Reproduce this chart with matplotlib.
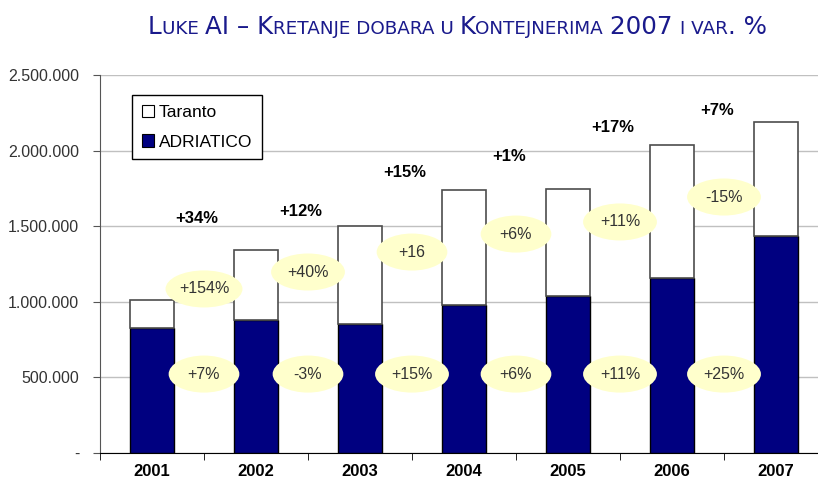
import matplotlib
matplotlib.use("Agg")
import matplotlib.pyplot as plt
from matplotlib.patches import Patch, Ellipse
from matplotlib.ticker import FixedLocator, FuncFormatter

# ── data ─────────────────────────────────────────────────────────────────────
years = ["2001", "2002", "2003", "2004", "2005", "2006", "2007"]
adriatico = [826000, 880000, 853000, 979000, 1038000, 1157000, 1435000]
total = [1012000, 1343000, 1501000, 1739000, 1744000, 2039000, 2189000]
taranto = [t - a for t, a in zip(total, adriatico)]

total_var = ["+34%", "+12%", "+15%", "+1%", "+17%", "+7%"]
taranto_var = ["+154%", "+40%", "+16", "+6%", "+11%", "-15%"]
adriatico_var = ["+7%", "-3%", "+15%", "+6%", "+11%", "+25%"]

# label heights (layout only)
total_var_y = [1554000, 1594000, 1858000, 1958000, 2156000, 2262000]
taranto_var_y = [1085000, 1197000, 1329000, 1448000, 1528000, 1693000]
adriatico_var_y = 522000

NAVY = "#000080"
PALE = "#FFFFCC"

plt.rcParams["font.family"] = ["Liberation Sans", "DejaVu Sans"]

fig = plt.figure(figsize=(8.18, 4.86), dpi=100)
ax = fig.add_axes([100 / 818, 33 / 486, 728 / 818, 378 / 486])

x = list(range(len(years)))
ax.bar(x, adriatico, width=0.42, color=NAVY, edgecolor="black", linewidth=1, zorder=3)
ax.bar(x, taranto, bottom=adriatico, width=0.42, color="white",
       edgecolor="#4d4d4d", linewidth=1.2, zorder=3)

ax.set_xlim(-0.5, 6.5)
ax.set_ylim(0, 2500000)
ax.yaxis.set_major_locator(FixedLocator([0, 500000, 1000000, 1500000, 2000000, 2500000]))
ax.yaxis.set_major_formatter(FuncFormatter(
    lambda v, p: "-" if v == 0 else f"{int(v):,}".replace(",", ".")))
ax.grid(axis="y", color="#C0C0C0", linewidth=1, zorder=0)
ax.set_axisbelow(True)

ax.set_xticks(x)
ax.set_xticklabels(years, fontsize=12, fontweight="bold")
ax.set_xticks([i - 0.5 for i in range(len(years) + 1)], minor=True)
ax.tick_params(axis="x", which="major", length=0, pad=8)
ax.tick_params(axis="x", which="minor", length=5, color="black")
ax.tick_params(axis="y", labelsize=11.5, labelcolor="#333333", length=5,
               color="#555555", pad=10)
for s in ("top", "right"):
    ax.spines[s].set_visible(False)
ax.spines["left"].set_color("#555555")
ax.spines["bottom"].set_color("black")

# variation labels
for i in range(len(total_var)):
    ax.text(i + 0.43, total_var_y[i], total_var[i], ha="center", va="center",
            fontsize=12, fontweight="bold", color="black", zorder=5)
    for lab, yy in ((taranto_var[i], taranto_var_y[i]), (adriatico_var[i], adriatico_var_y)):
        w = 0.68 + 0.03 * max(len(lab) - 3, 0)
        ax.add_patch(Ellipse((i + 0.5, yy), w, 245000, facecolor=PALE,
                             edgecolor="none", zorder=4))
        ax.text(i + 0.5, yy, lab, ha="center", va="center", fontsize=11.5,
                color="#333333", zorder=5)

handles = [Patch(facecolor="white", edgecolor="black", linewidth=0.8),
           Patch(facecolor=NAVY, edgecolor="black", linewidth=0.8)]
leg = ax.legend(handles, ["Taranto", "ADRIATICO"], loc="upper left",
                bbox_to_anchor=(0.044, 0.947), fontsize=12.5, frameon=True,
                fancybox=False, framealpha=1, edgecolor="black",
                handlelength=0.7, handleheight=0.7, handletextpad=0.3,
                borderpad=0.55, labelspacing=0.85, borderaxespad=0)
leg.get_frame().set_linewidth(1)

# small-caps title
title = "Luke AI – Kretanje dobara u Kontejnerima 2007 i var. %"
runs = []
for ch in title:
    big = not ch.islower()
    if ch == " " and runs:
        big = runs[-1][1]
    if runs and runs[-1][1] == big:
        runs[-1][0] += ch
    else:
        runs.append([ch, big])

BIG, SMALL = 19.5, 14.5
renderer = fig.canvas.get_renderer()


def width_px(s, size):
    t = fig.text(0, 0, s + "X", fontsize=size, family="DejaVu Sans")
    r = fig.text(0, 0, "X", fontsize=size, family="DejaVu Sans")
    w = t.get_window_extent(renderer).width - r.get_window_extent(renderer).width
    t.remove()
    r.remove()
    return w


widths = [width_px(s.upper(), BIG if b else SMALL) for s, b in runs]
scale = 619 / sum(widths)
xpos = 148
for (s, b), w in zip(runs, widths):
    fig.text(xpos / 818, 1 - 34 / 486, s.upper(), fontsize=(BIG if b else SMALL) * scale,
             family="DejaVu Sans", color="#1A1A8C", va="baseline", ha="left")
    xpos += w * scale

fig.savefig("out.png", dpi=100)
